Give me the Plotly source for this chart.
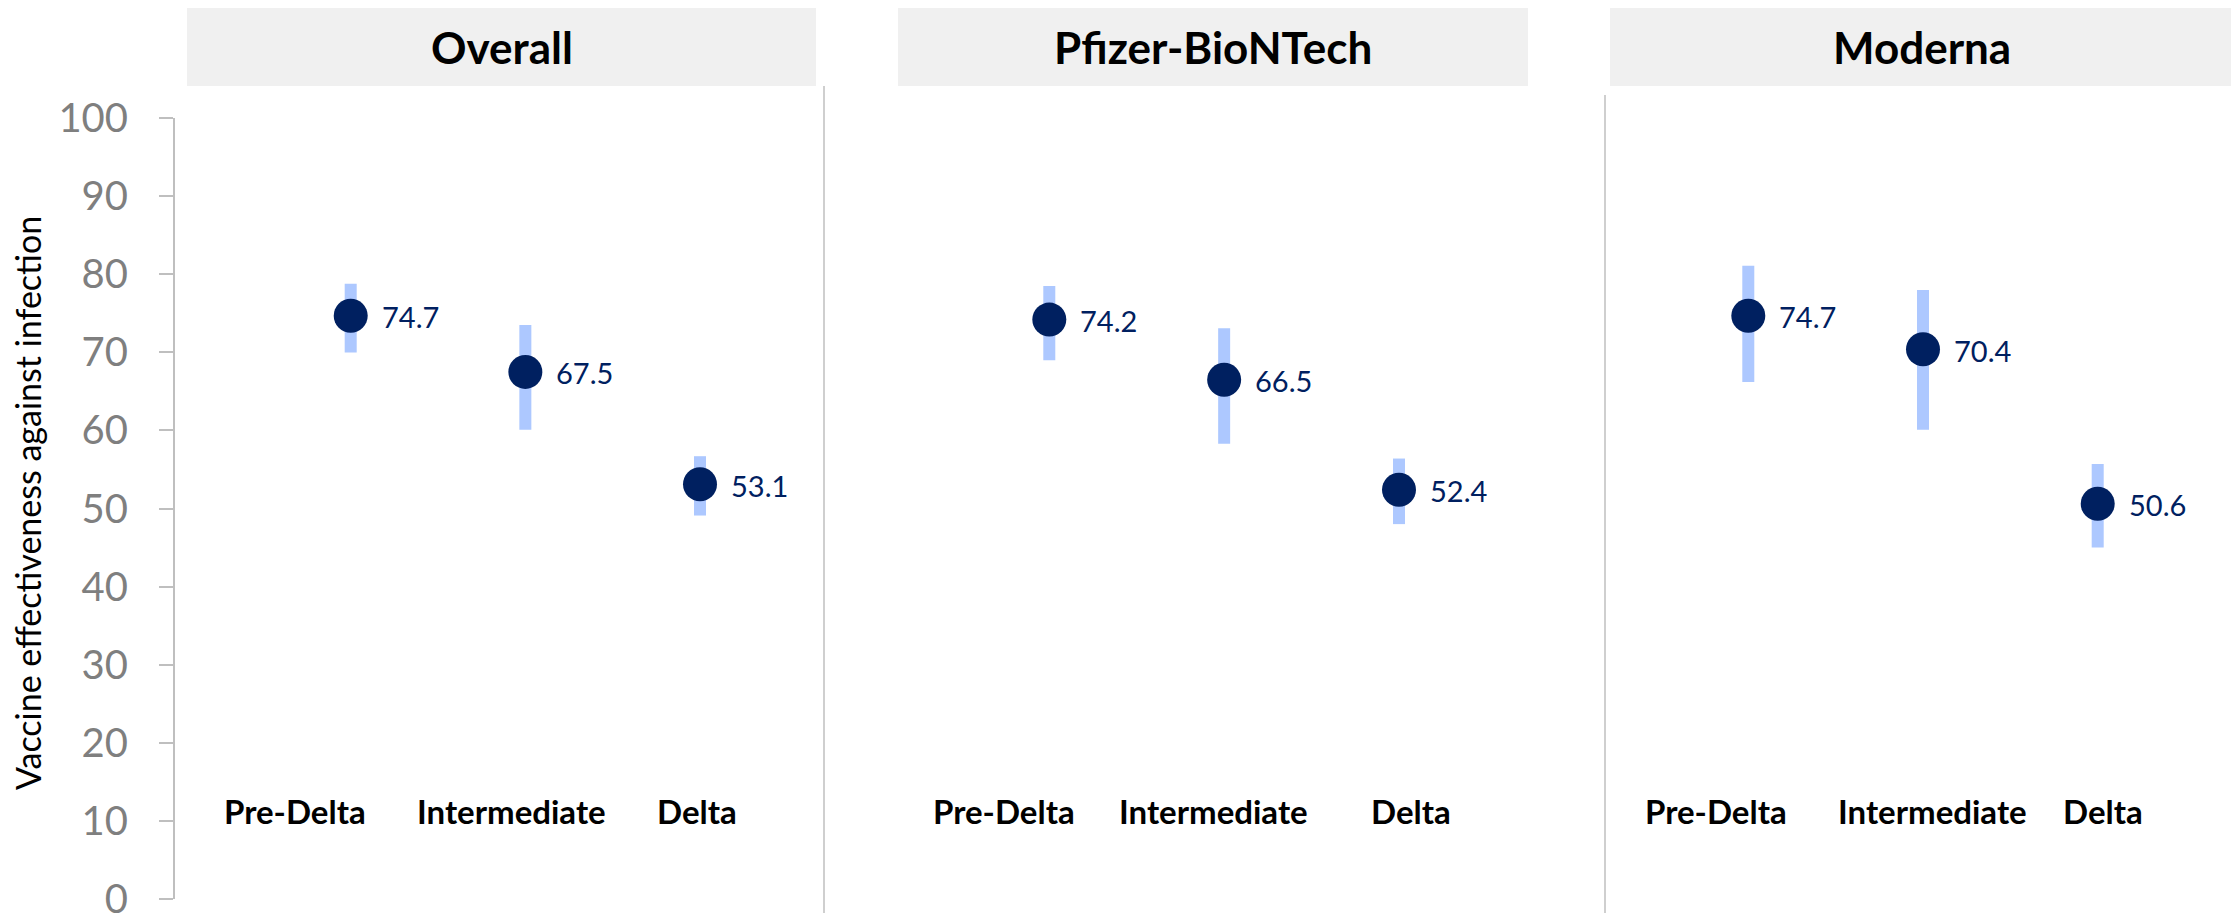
import plotly.graph_objects as go

# ---------------- data ----------------
categories = ["Pre-Delta", "Intermediate", "Delta"]
panels = ["Overall", "Pfizer-BioNTech", "Moderna"]

ve_overall = [74.7, 67.5, 53.1]
lo_overall = [70.0, 60.1, 49.1]
hi_overall = [78.8, 73.5, 56.7]

ve_pfizer = [74.2, 66.5, 52.4]
lo_pfizer = [69.0, 58.3, 48.0]
hi_pfizer = [78.5, 73.1, 56.4]

ve_moderna = [74.7, 70.4, 50.6]
lo_moderna = [66.2, 60.1, 45.0]
hi_moderna = [81.1, 78.0, 55.7]

y_ticks = [0, 10, 20, 30, 40, 50, 60, 70, 80, 90, 100]
y_title = "Vaccine effectiveness against infection"

# ---------------- layout geometry (pixels) ----------------
W, H = 2239, 913
OFF = 8  # page body margin compensation
NAVY = "#002060"
LIGHT = "#adc8ff"
GRID = "#bfbfbf"


def px(v):
    return (v - OFF) / W


def py(v):
    return 1 - (v - OFF) / H


geo = [
    dict(d0=175, d1=824, p0=350.7, p2=700.0, lab=[-56, -14, -3], hb=(187, 816)),
    dict(d0=824, d1=1605, p0=1049.3, p2=1399.0, lab=[-45, -11, 12], hb=(898, 1528)),
    dict(d0=1605, d1=2239, p0=1748.3, p2=2097.7, lab=[-32, 9, 5], hb=(1610, 2260)),
]
y0_px, y100_px = 898.8, 118.2

series = [
    (ve_overall, lo_overall, hi_overall),
    (ve_pfizer, lo_pfizer, hi_pfizer),
    (ve_moderna, lo_moderna, hi_moderna),
]

fig = go.Figure()
annotations = []
shapes = []

for i, (ve, lo, hi) in enumerate(series):
    g = geo[i]
    xa = "x" if i == 0 else f"x{i+1}"
    step = (g["p2"] - g["p0"]) / 2
    d1 = min(g["d1"], W + OFF)
    r0 = -(g["p0"] - g["d0"]) / step
    r1 = 2 + (d1 - g["p2"]) / step
    axname = "xaxis" if i == 0 else f"xaxis{i+1}"
    fig.layout[axname] = dict(
        domain=[px(g["d0"]), min(px(d1), 1.0)],
        type="category",
        categoryarray=categories,
        range=[r0, r1],
        visible=False,
        anchor="y",
    )
    fig.add_trace(go.Scatter(
        x=categories, y=ve, xaxis=xa, yaxis="y",
        mode="markers",
        marker=dict(size=34, color=NAVY),
        error_y=dict(
            type="data", symmetric=False,
            array=[h - v for h, v in zip(hi, ve)],
            arrayminus=[v - l for v, l in zip(ve, lo)],
            thickness=12, width=0, color=LIGHT,
        ),
        cliponaxis=False,
        showlegend=False,
        hoverinfo="skip",
    ))
    for c, v in zip(categories, ve):
        annotations.append(dict(
            x=c, y=v, xref=xa, yref="y", text=f"{v:.1f}",
            showarrow=False, xanchor="left", yanchor="middle",
            xshift=29, yshift=-1,
            font=dict(family="Lato", size=29, color=NAVY),
        ))
    for c, sh in zip(categories, g["lab"]):
        annotations.append(dict(
            x=c, y=11.0, xref=xa, yref="y", text=f"<b>{c}</b>",
            showarrow=False, xanchor="center", yanchor="middle",
            xshift=sh, yshift=2,
            font=dict(family="Lato", size=33, color="black"),
        ))
    hx0, hx1 = g["hb"]
    shapes.append(dict(
        type="rect", xref="paper", yref="paper",
        x0=px(hx0), x1=px(hx1), y0=py(86), y1=py(8),
        fillcolor="#f0f0f0", line=dict(width=0), layer="below",
    ))
    cx = (hx0 + hx1) / 2 if i < 2 else (hx0 + 2234) / 2
    annotations.append(dict(
        x=px(cx), y=py(47), xref="paper", yref="paper",
        text=f"<b>{panels[i]}</b>", showarrow=False,
        xanchor="center", yanchor="middle",
        font=dict(family="Lato", size=44, color="black"),
    ))

for xpx, ytop in [(824, 86), (1605, 95)]:
    shapes.append(dict(
        type="line", xref="paper", yref="paper",
        x0=px(xpx), x1=px(xpx), y0=0, y1=py(ytop),
        line=dict(color=GRID, width=1.5),
    ))

annotations.append(dict(
    x=px(27), y=py(503), xref="paper", yref="paper",
    text=y_title, textangle=-90, showarrow=False,
    xanchor="center", yanchor="middle",
    font=dict(family="Lato", size=34, color="black"),
))

fig.update_layout(
    width=W, height=H,
    margin=dict(l=0, r=0, t=0, b=0, pad=0, autoexpand=False),
    paper_bgcolor="white", plot_bgcolor="rgba(0,0,0,0)",
    yaxis=dict(
        domain=[py(y0_px), py(y100_px)],
        range=[0, 100],
        tickvals=y_ticks,
        showgrid=False, zeroline=False,
        showline=True, linecolor=GRID, linewidth=2,
        ticks="outside", ticklen=14, tickcolor=GRID, tickwidth=2,
        ticklabelstandoff=23,
        ticklabeloverflow="allow",
        tickfont=dict(family="Lato", size=40, color="#7f7f7f"),
        anchor="x",
        automargin=False,
    ),
    annotations=annotations,
    shapes=shapes,
)

fig.write_html("out.html")
